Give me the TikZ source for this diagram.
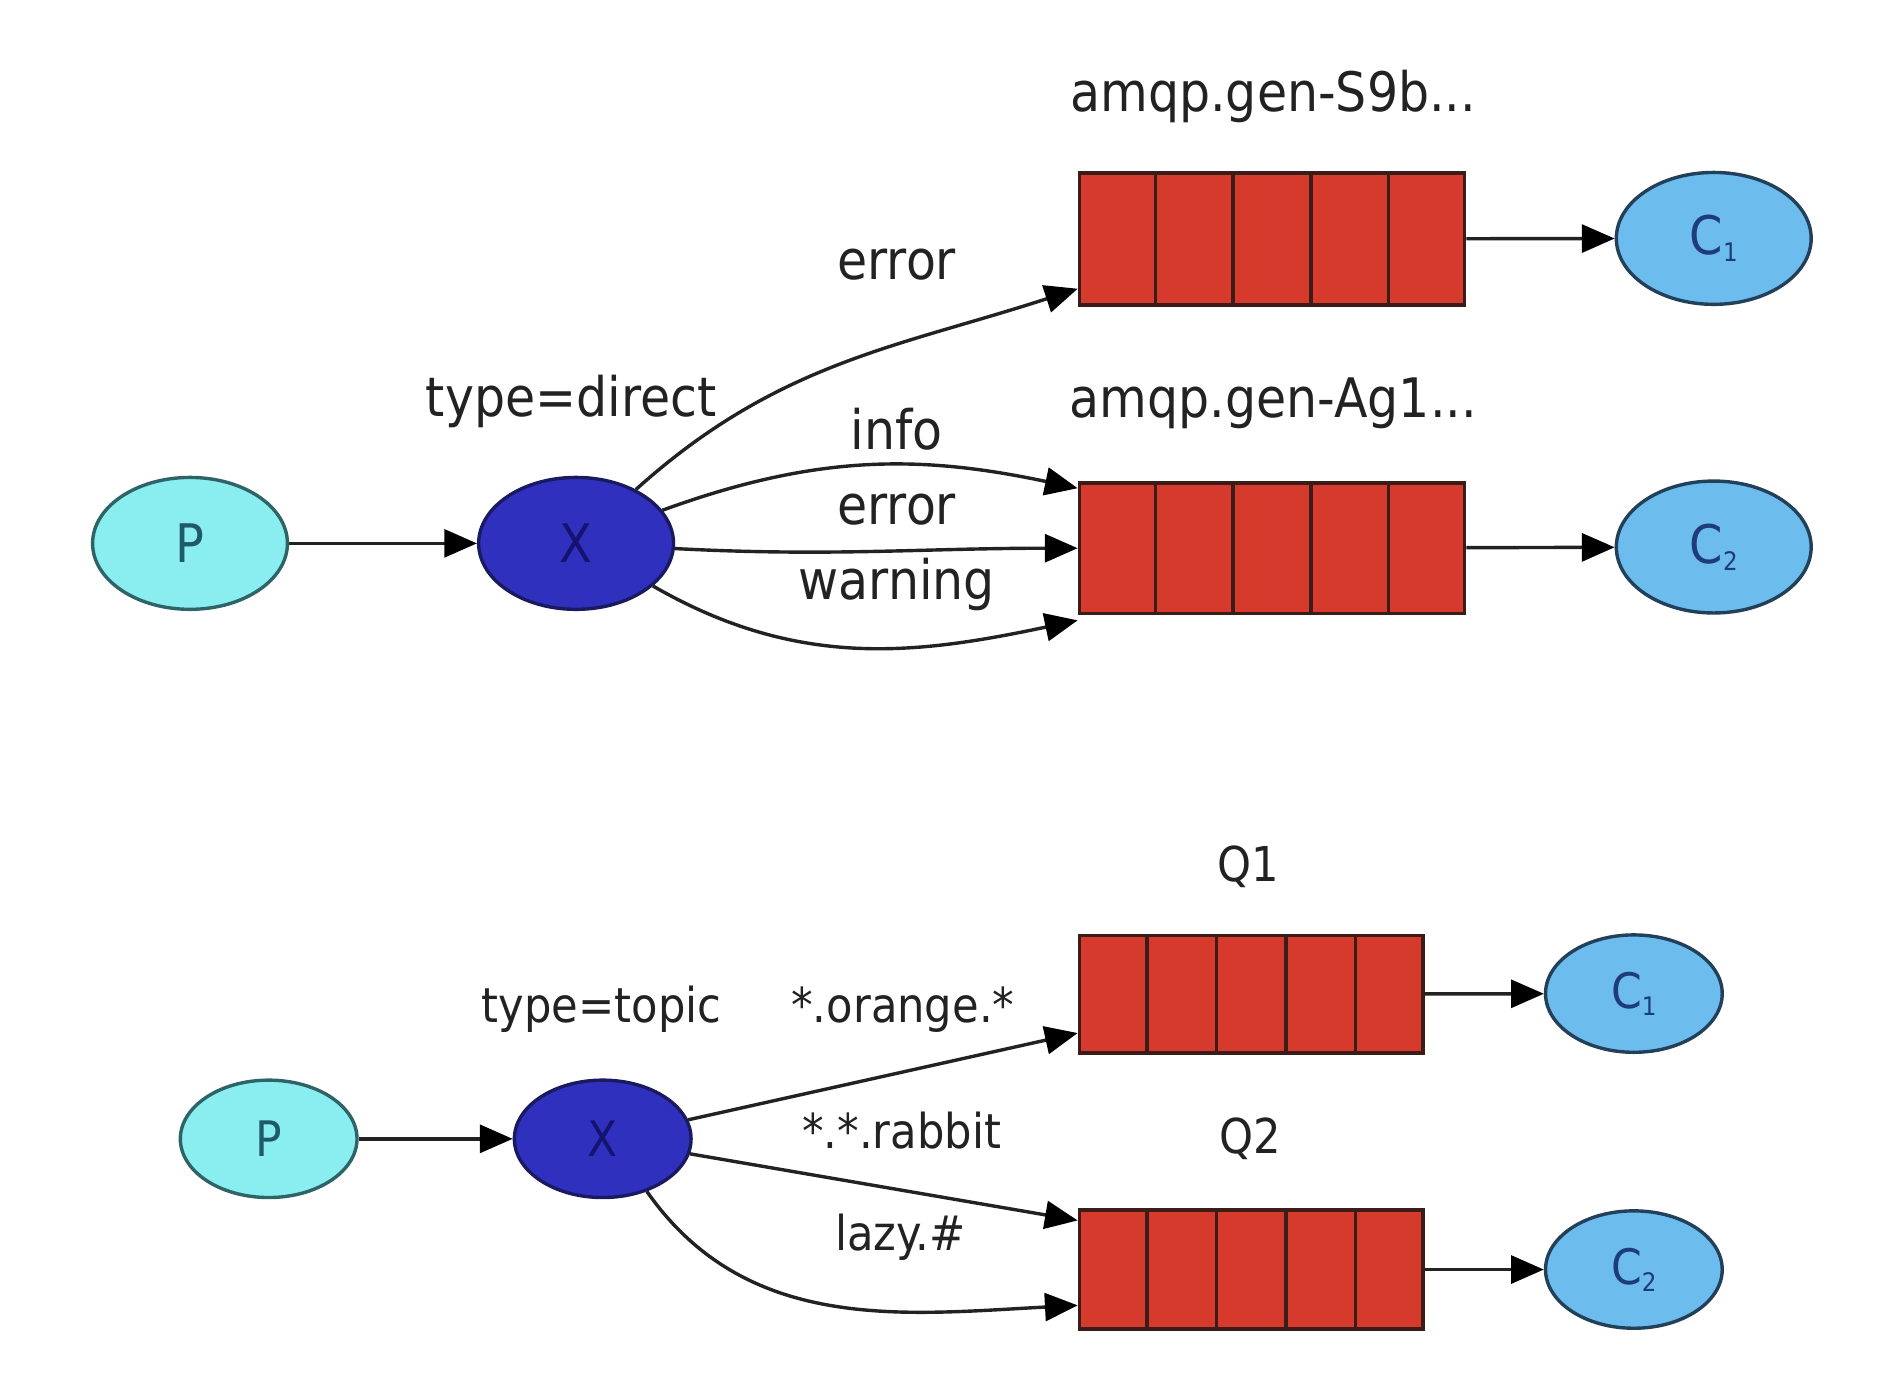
\documentclass[tikz,border=0pt]{standalone}
\usepackage{fontspec}
\setmainfont{DejaVu Sans}[FakeStretch=0.9]
\usetikzlibrary{arrows.meta,calc,shapes.geometric}
\definecolor{pfill}{HTML}{8AEEF0}
\definecolor{pborder}{HTML}{2E6468}
\definecolor{ptext}{HTML}{1E5A6A}
\definecolor{xfill}{HTML}{3030BE}
\definecolor{xborder}{HTML}{1A1A60}
\definecolor{xtext}{HTML}{141470}
\definecolor{qfill}{HTML}{D63A2C}
\definecolor{qborder}{HTML}{3A1C18}
\definecolor{cfill}{HTML}{6CBDEE}
\definecolor{cborder}{HTML}{23405A}
\definecolor{ctext}{HTML}{1E3C78}
\definecolor{edgegray}{HTML}{222222}
\newcommand*{\sub}[1]{{\fontsize{6}{6}\selectfont\raisebox{-0.5ex}{#1}}}

\begin{document}
\begin{tikzpicture}[>={Triangle[length=0.27cm,width=0.23cm,color=black]},
        edge/.style={->,line width=0.8pt,draw=edgegray},
        prod/.style={ellipse,draw=pborder,fill=pfill,text=ptext,line width=0.8pt,inner sep=0pt},
        exch/.style={ellipse,draw=xborder,fill=xfill,text=xtext,line width=0.8pt,inner sep=0pt},
        cons/.style={ellipse,draw=cborder,fill=cfill,text=ctext,line width=0.8pt,inner sep=0pt},
        queue/.style={rectangle,draw=qborder,fill=qfill,line width=0.9pt,inner sep=0pt},
        qline/.style={draw=qborder,line width=0.8pt},
        topsize/.style={minimum width=1.61cm,minimum height=1.09cm,font=\fontsize{12.5}{14}\selectfont},
        botsize/.style={minimum width=1.46cm,minimum height=0.97cm,font=\fontsize{11.5}{13}\selectfont},
        lbl/.style={text=edgegray,font=\fontsize{12.8}{15}\selectfont},
        lbls/.style={text=edgegray,font=\fontsize{11.3}{13}\selectfont}]
    \useasboundingbox (0,0) rectangle (15.60,11.47);

    % direct exchange
    \node[prod,topsize] (P1) at (1.57,6.98) {P};
    \node[exch,topsize] (X1) at (4.76,6.98) {X};
    \node[queue,minimum width=3.18cm,minimum height=1.09cm] (Q1a) at (10.51,9.495) {};
    \node[queue,minimum width=3.18cm,minimum height=1.08cm] (Q2a) at (10.51,6.94) {};
    \node[cons,topsize] (C1a) at (14.16,9.50) {C\sub{1}};
    \node[cons,topsize] (C2a) at (14.16,6.95) {C\sub{2}};

    \node[lbl] (nameS9b) at (10.52,10.67) {amqp.gen-S9b...};
    \node[lbl] (nameAg1) at (10.52,8.14) {amqp.gen-Ag1...};
    \node[lbl] (typedirect) at (4.72,8.15) {type=direct};
    \node[lbl] (keyerrtop) at (7.41,9.28) {error};
    \node[lbl] (keyinfo) at (7.41,7.92) {info};
    \node[lbl] (keyerr) at (7.41,7.26) {error};
    \node[lbl] (keywarn) at (7.41,6.64) {warning};

    \draw[edge] (P1) -- (X1);
    \draw[edge] (X1.42) to[out=42,in=198] ([yshift=0.15cm]Q1a.south west);
    \draw[edge] (X1.21) to[out=20,in=168] ([yshift=-0.06cm]Q2a.north west);
    \draw[edge] (X1) to[out=-3,in=180] (Q2a);
    \draw[edge] (X1.-29) to[out=-30,in=192] ([yshift=-0.04cm]Q2a.south west);
    \draw[edge] (Q1a) -- (C1a);
    \draw[edge] (Q2a) -- (C2a);

    % topic exchange
    \node[prod,botsize] (P2) at (2.22,2.06) {P};
    \node[exch,botsize] (X2) at (4.98,2.06) {X};
    \node[queue,minimum width=2.84cm,minimum height=0.97cm] (Q1b) at (10.34,3.255) {};
    \node[queue,minimum width=2.84cm,minimum height=0.98cm] (Q2b) at (10.34,0.98) {};
    \node[cons,botsize] (C1b) at (13.50,3.26) {C\sub{1}};
    \node[cons,botsize] (C2b) at (13.50,0.98) {C\sub{2}};

    \node[lbls] (nameQ1) at (10.31,4.31) {Q1};
    \node[lbls] (nameQ2) at (10.33,2.06) {Q2};
    \node[lbls] (typetopic) at (4.97,3.13) {type=topic};
    \node[lbls] (keyorange) at (7.46,3.13) {*.orange.*};
    \node[lbls] (keyrabbit) at (7.45,2.13) {*.*.rabbit};
    \node[lbls] (keylazy) at (7.44,1.25) {lazy.\#};

    \draw[edge] (P2) -- (X2);
    \draw[edge] (X2) -- ([yshift=0.18cm]Q1b.south west);
    \draw[edge] (X2) -- ([yshift=-0.10cm]Q2b.north west);
    \draw[edge] (X2.-50) to[out=-55,in=183] ([yshift=0.21cm]Q2b.south west);
    \draw[edge] (Q1b) -- (C1b);
    \draw[edge] (Q2b) -- (C2b);

    % queue cells
    \foreach \q in {Q1a,Q2a,Q1b,Q2b}
        \foreach \k in {1,...,4}
            \draw[qline] ($(\q.north west)!\k/5!(\q.north east)$) -- ($(\q.south west)!\k/5!(\q.south east)$);
\end{tikzpicture}
\end{document}
